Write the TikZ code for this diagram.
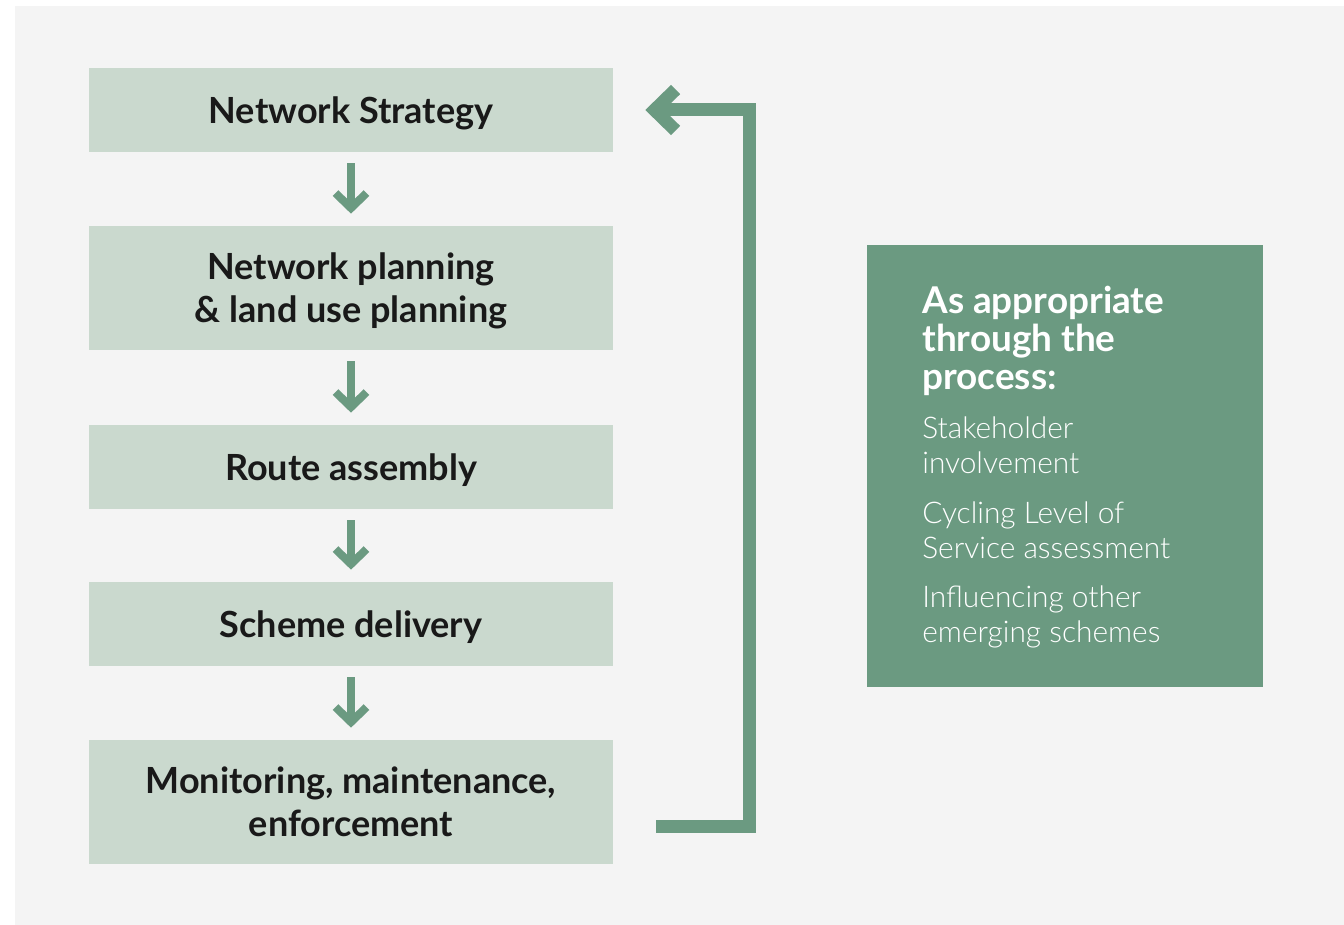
\documentclass[tikz,border=0pt]{standalone}
\usepackage{fontspec}
\setmainfont{Lato}[UprightFont=*-Light, BoldFont=*-Bold]
\usepackage{tikz}
\usetikzlibrary{arrows.meta,positioning}
\usepackage{xcolor}
\definecolor{paper}{HTML}{F4F4F4}
\definecolor{stepfill}{HTML}{CAD9CE}
\definecolor{leaf}{HTML}{6B9A81}

\begin{document}
\begin{tikzpicture}[x=0.02cm, y=-0.02cm]
      \tikzstyle{stage} = [rectangle, fill=stepfill, minimum width=10.48cm, inner sep=0pt, text depth=0pt, align=center, font=\fontsize{20.5}{24.4}\selectfont\bfseries, text=black!90]
      \tikzstyle{down} = [draw=leaf, line width=0.16cm, -{Straight Barb[length=0.3cm, width=0.62cm]}, shorten <=0.22cm, shorten >=0.24cm]
      \tikzstyle{back} = [draw=leaf, line width=0.26cm, -{Straight Barb[length=0.42cm, width=0.82cm]}]
      \tikzstyle{side} = [anchor=north west, align=left, inner sep=0pt, text=white, font=\fontsize{17}{20}\selectfont]

      \useasboundingbox (0,0) rectangle (1344,925);
      \fill[white] (0,0) rectangle (1344,925);
      \fill[paper] (15,6) rectangle (1344,925);

      \node[stage, minimum height=1.68cm] (s1) at (351,110) {Network Strategy};
      \node[stage, minimum height=2.48cm] (s2) at (351,288) {Network planning\\ \& land use planning};
      \node[stage, minimum height=1.68cm] (s3) at (351,467) {Route assembly};
      \node[stage, minimum height=1.68cm] (s4) at (351,624) {Scheme delivery};
      \node[stage, minimum height=2.48cm] (s5) at (351,802) {Monitoring, maintenance,\\ enforcement};

      \draw[down] (s1) -- (s2);
      \draw[down] (s2) -- (s3);
      \draw[down] (s3) -- (s4);
      \draw[down] (s4) -- (s5);

      % loop back to the top
      \draw[back, shorten <=0.86cm, shorten >=0.64cm] ([yshift=-0.48cm]s5.east) -- ++(136,0) |- (s1.east);

      \node[rectangle, fill=leaf, minimum width=7.92cm, minimum height=8.84cm, inner sep=0pt] (note) at (1065,466) {};
      \node[side, font=\fontsize{21}{21.5}\selectfont\bfseries] (head) at (922,286) {As appropriate\\ through the\\ process:};
      \node[side] (p1) at (922,416) {Stakeholder\\ involvement};
      \node[side] (p2) at (922,501) {Cycling Level of\\ Service assessment};
      \node[side] (p3) at (922,585) {Influencing other\\ emerging schemes};
    \end{tikzpicture}
\end{document}
